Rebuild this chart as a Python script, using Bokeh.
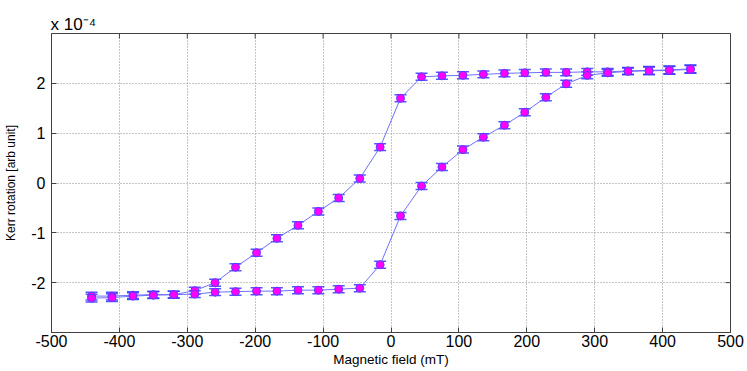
import math
from bokeh.plotting import figure
from bokeh.models import Range1d, FixedTicker, Whisker, ColumnDataSource, TeeHead
from bokeh.embed import file_html
from bokeh.resources import INLINE

# Magnetic field (mT)
field = [-441, -411, -380, -350, -320, -289, -259, -229, -198, -168, -137, -107, -77, -46, -16,
         14, 45, 75, 106, 136, 167, 197, 228, 258, 289, 319, 349, 380, 410, 441]

# Kerr rotation, units of 1e-4 — branch that switches at negative field
kerr_a = [-2.27, -2.27, -2.25, -2.24, -2.24, -2.16, -2.00, -1.69, -1.40, -1.11, -0.85, -0.57, -0.30, 0.09, 0.72,
          1.70, 2.13, 2.15, 2.16, 2.18, 2.20, 2.21, 2.22, 2.22, 2.23, 2.23, 2.25, 2.26, 2.27, 2.29]
# branch that switches at positive field
kerr_b = [-2.31, -2.30, -2.27, -2.25, -2.24, -2.23, -2.19, -2.18, -2.17, -2.17, -2.15, -2.15, -2.13, -2.11, -1.64,
          -0.66, -0.06, 0.32, 0.67, 0.92, 1.16, 1.42, 1.72, 1.99, 2.16, 2.21, 2.24, 2.25, 2.26, 2.28]
err_a = [0.08, 0.08, 0.07, 0.07, 0.07, 0.07, 0.07, 0.07, 0.07, 0.07, 0.07, 0.07, 0.07, 0.07, 0.07,
         0.07, 0.07, 0.07, 0.07, 0.07, 0.07, 0.07, 0.07, 0.07, 0.07, 0.07, 0.07, 0.08, 0.08, 0.08]
err_b = [0.08, 0.08, 0.07, 0.07, 0.07, 0.07, 0.07, 0.07, 0.07, 0.07, 0.07, 0.07, 0.07, 0.07, 0.07,
         0.07, 0.07, 0.07, 0.07, 0.07, 0.07, 0.07, 0.07, 0.07, 0.07, 0.07, 0.07, 0.08, 0.08, 0.08]

x_ticks = [-500, -400, -300, -200, -100, 0, 100, 200, 300, 400, 500]
y_ticks = [-2, -1, 0, 1, 2]
x_label = "Magnetic field (mT)"
y_label = "Kerr rotation [arb unit]"
exponent_text = "x 10\u207b\u2074"

FONT = "Liberation Sans"
FRAME = "#404040"
X0, X1, Y0, Y1 = -500, 500, -3, 3

p = figure(width=747, height=371, output_backend="svg", toolbar_location=None,
           x_range=Range1d(X0, X1), y_range=Range1d(Y0, Y1),
           min_border_left=51, min_border_right=17, min_border_top=33, min_border_bottom=39)
p.background_fill_color = "white"
p.border_fill_color = "white"
p.outline_line_color = FRAME
p.outline_line_width = 1

# exponent shown above the y axis
p.title.text = exponent_text
p.title.align = "left"
p.title.offset = -1
p.title.standoff = 0
p.title.vertical_align = "bottom"
p.title.text_font = FONT
p.title.text_font_size = "17px"
p.title.text_font_style = "normal"
p.title.text_color = "black"

for ax, ticks in ((p.xaxis[0], x_ticks), (p.yaxis[0], y_ticks)):
    ax.ticker = FixedTicker(ticks=ticks)
    ax.major_label_overrides = {t: str(t) for t in ticks}
    ax.major_tick_in = 5
    ax.major_tick_out = 0
    ax.minor_tick_line_color = None
    ax.axis_line_color = FRAME
    ax.major_tick_line_color = FRAME
    ax.major_label_text_font = FONT
    ax.major_label_text_font_size = "16px"
    ax.major_label_text_color = "black"
    ax.axis_label_text_font = FONT
    ax.axis_label_text_font_style = "normal"
    ax.axis_label_text_color = "black"

p.xaxis.axis_label = x_label
p.xaxis.axis_label_text_font_size = "13.5px"
p.xaxis.major_label_standoff = 2
p.xaxis.axis_label_standoff = 2
p.yaxis.axis_label = y_label
p.yaxis.axis_label_text_font_size = "12px"
p.yaxis.major_label_standoff = 6
p.yaxis.axis_label_standoff = 10

# box ticks on the top and right edges (inward, 5 px)
p.ray(x=[X1] * len(y_ticks), y=y_ticks, length=5, length_units="screen", angle=math.pi,
      line_color=FRAME, line_width=1)
p.ray(x=x_ticks, y=[Y1] * len(x_ticks), length=5, length_units="screen", angle=-math.pi / 2,
      line_color=FRAME, line_width=1)

p.xgrid.ticker = FixedTicker(ticks=x_ticks)
p.ygrid.ticker = FixedTicker(ticks=y_ticks)
p.grid.grid_line_color = "#8c8c8c"
p.grid.grid_line_dash = "1 2"
p.grid.grid_line_width = 1

LINE = "#6f6fff"
ERR = "#2a2aff"
for ky, ke in ((kerr_a, err_a), (kerr_b, err_b)):
    src = ColumnDataSource(dict(x=field, y=ky,
                                upper=[v + e for v, e in zip(ky, ke)],
                                lower=[v - e for v, e in zip(ky, ke)]))
    p.line("x", "y", source=src, line_color=LINE, line_width=1)
    w = Whisker(base="x", upper="upper", lower="lower", source=src,
                line_color=ERR, line_width=1.3, line_alpha=0.8,
                upper_head=TeeHead(size=12, line_color=ERR, line_width=1.5, line_alpha=0.8),
                lower_head=TeeHead(size=12, line_color=ERR, line_width=1.5, line_alpha=0.8))
    w.level = "underlay"
    p.add_layout(w)

for ky in (kerr_a, kerr_b):
    p.scatter(field, ky, size=8, marker="circle", fill_color="#ff00ff", line_color="#5a3cff", line_width=1)

open("out.html", "w").write(file_html(p, INLINE))
